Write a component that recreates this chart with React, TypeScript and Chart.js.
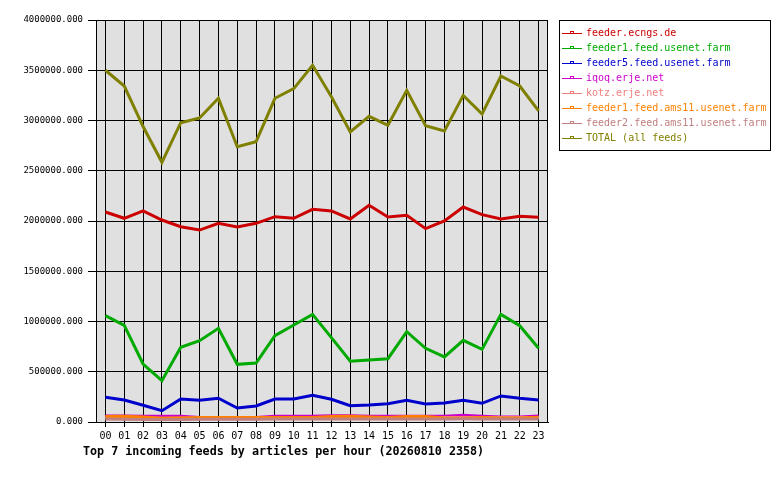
import { useEffect, useRef } from "react"
import { Chart, registerables } from "chart.js"

Chart.register(...registerables)

const hours = ["00", "01", "02", "03", "04", "05", "06", "07", "08", "09", "10", "11",
  "12", "13", "14", "15", "16", "17", "18", "19", "20", "21", "22", "23"]

const feedNames = [
  "feeder.ecngs.de",
  "feeder1.feed.usenet.farm",
  "feeder5.feed.usenet.farm",
  "iqoq.erje.net",
  "kotz.erje.net",
  "feeder1.feed.ams11.usenet.farm",
  "feeder2.feed.ams11.usenet.farm",
  "TOTAL (all feeds)",
]

const feedColors = ["#cc0000", "#00aa00", "#0000cc", "#cc00cc", "#f08080", "#ff8000", "#c08080", "#808000"]

const ecngs = [2090000, 2027000, 2100000, 2010000, 1943000, 1910000, 1977000, 1940000, 1977000, 2043000, 2027000, 2116000,
  2100000, 2020000, 2156000, 2040000, 2056000, 1924000, 2000000, 2139000, 2063000, 2020000, 2047000, 2037000]
const feeder1 = [1058000, 962000, 577000, 411000, 743000, 809000, 932000, 574000, 587000, 859000, 965000, 1071000,
  839000, 604000, 617000, 630000, 899000, 733000, 647000, 813000, 723000, 1071000, 958000, 733000]
const feeder5 = [246000, 219000, 166000, 112000, 229000, 216000, 236000, 139000, 159000, 229000, 229000, 265000,
  226000, 162000, 169000, 182000, 216000, 179000, 189000, 216000, 186000, 259000, 236000, 219000]
const iqoq = [60000, 60000, 58000, 57000, 57000, 45000, 42000, 42000, 45000, 58000, 58000, 58000,
  62000, 62000, 56000, 56000, 56000, 56000, 58000, 66000, 56000, 50000, 50000, 60000]
const kotz = [42000, 42000, 40000, 38000, 40000, 38000, 38000, 40000, 40000, 42000, 42000, 44000,
  46000, 46000, 44000, 44000, 46000, 46000, 44000, 46000, 44000, 44000, 46000, 44000]
const ams11a = [55000, 58000, 50000, 37000, 40000, 45000, 45000, 45000, 45000, 45000, 45000, 45000,
  55000, 56000, 50000, 45000, 55000, 55000, 40000, 38000, 45000, 40000, 40000, 48000]
const ams11b = [30000, 28000, 25000, 25000, 25000, 28000, 28000, 28000, 28000, 30000, 30000, 30000,
  30000, 30000, 30000, 30000, 30000, 30000, 30000, 32000, 30000, 30000, 30000, 30000]
const total = [3500000, 3343000, 2940000, 2584000, 2978000, 3025000, 3221000, 2739000, 2789000, 3221000, 3317000, 3549000,
  3237000, 2886000, 3041000, 2952000, 3300000, 2948000, 2896000, 3250000, 3065000, 3443000, 3343000, 3095000]

const series = [ecngs, feeder1, feeder5, iqoq, kotz, ams11a, ams11b, total]

const chartTitle = "Top 7 incoming feeds by articles per hour (20260810 2358)"
const mono = "'DejaVu Sans Mono', monospace"

// fond gris de la zone + bordure droite, légende encadrée et titre en bas
const decorPlugin = {
  id: "decor",
  beforeDraw(chart: Chart) {
    const { ctx, chartArea } = chart
    ctx.save()
    ctx.fillStyle = "#e0e0e0"
    ctx.fillRect(chartArea.left, chartArea.top, chartArea.right - chartArea.left, chartArea.bottom - chartArea.top)
    ctx.restore()
  },
  afterDraw(chart: Chart) {
    const { ctx, chartArea } = chart
    ctx.save()
    ctx.strokeStyle = "#000"
    ctx.lineWidth = 1
    ctx.strokeRect(chartArea.left + 0.5, chartArea.top + 0.5, chartArea.right - chartArea.left - 1, chartArea.bottom - chartArea.top)

    // légende
    const lx = chartArea.right + 11
    const ly = chartArea.top
    ctx.strokeRect(lx + 0.5, ly + 0.5, 211, 130)
    ctx.font = `10px ${mono}`
    ctx.textBaseline = "middle"
    feedNames.forEach((name, i) => {
      const y = Math.round(ly + 13 + i * 15) + 0.5
      ctx.strokeStyle = feedColors[i]
      ctx.beginPath()
      ctx.moveTo(lx + 3, y)
      ctx.lineTo(lx + 23, y)
      ctx.stroke()
      ctx.strokeRect(lx + 11.5, y - 2, 3, 2)
      ctx.fillStyle = feedColors[i]
      ctx.fillText(name, lx + 27, y)
    })

    // titre
    ctx.fillStyle = "#000"
    ctx.font = `bold 11.7px ${mono}`
    ctx.fillText(chartTitle, chartArea.left - 13, chartArea.bottom + 30)
    ctx.restore()
  },
}

export default function App() {
  const chartRef = useRef<HTMLCanvasElement>(null)
  const chartInstance = useRef<Chart | null>(null)

  useEffect(() => {
    if (!chartRef.current) return
    if (chartInstance.current) chartInstance.current.destroy()

    const ctx = chartRef.current.getContext("2d")
    if (!ctx) return

    chartInstance.current = new Chart(ctx, {
      type: "line",
      data: {
        labels: hours,
        datasets: series.map((values, i) => ({
          label: feedNames[i],
          data: values,
          borderColor: feedColors[i],
          backgroundColor: feedColors[i],
          borderWidth: 3,
          pointRadius: 0,
          tension: 0,
          order: series.length - i,
        })),
      },
      options: {
        animation: false,
        responsive: true,
        maintainAspectRatio: false,
        layout: { padding: { top: 20, right: 232, left: 0, bottom: 0 } },
        plugins: {
          legend: { display: false },
          tooltip: { enabled: false },
        },
        scales: {
          x: {
            offset: true,
            grid: { offset: false, color: "#000", lineWidth: 1, tickLength: 5, drawTicks: true },
            border: { color: "#000" },
            ticks: {
              autoSkip: false,
              maxRotation: 0,
              color: "#000",
              padding: 3,
              font: { family: mono, size: 10 },
            },
            afterFit: (scale: any) => {
              scale.height = 58
            },
          },
          y: {
            min: 0,
            max: 4000000,
            grid: { color: "#000", lineWidth: 1, tickLength: 8 },
            border: { color: "#000" },
            ticks: {
              stepSize: 500000,
              color: "#000",
              padding: 5,
              font: { family: mono, size: 9 },
              callback: (value) => Number(value).toFixed(3),
            },
            afterFit: (scale: any) => {
              scale.width = 96
            },
          },
        },
      },
      plugins: [decorPlugin],
    })

    return () => {
      if (chartInstance.current) {
        chartInstance.current.destroy()
        chartInstance.current = null
      }
    }
  }, [])

  return (
    <div style={{ position: "fixed", left: 0, top: 0, width: 780, height: 480, background: "#fff" }}>
      <canvas ref={chartRef} />
    </div>
  )
}
